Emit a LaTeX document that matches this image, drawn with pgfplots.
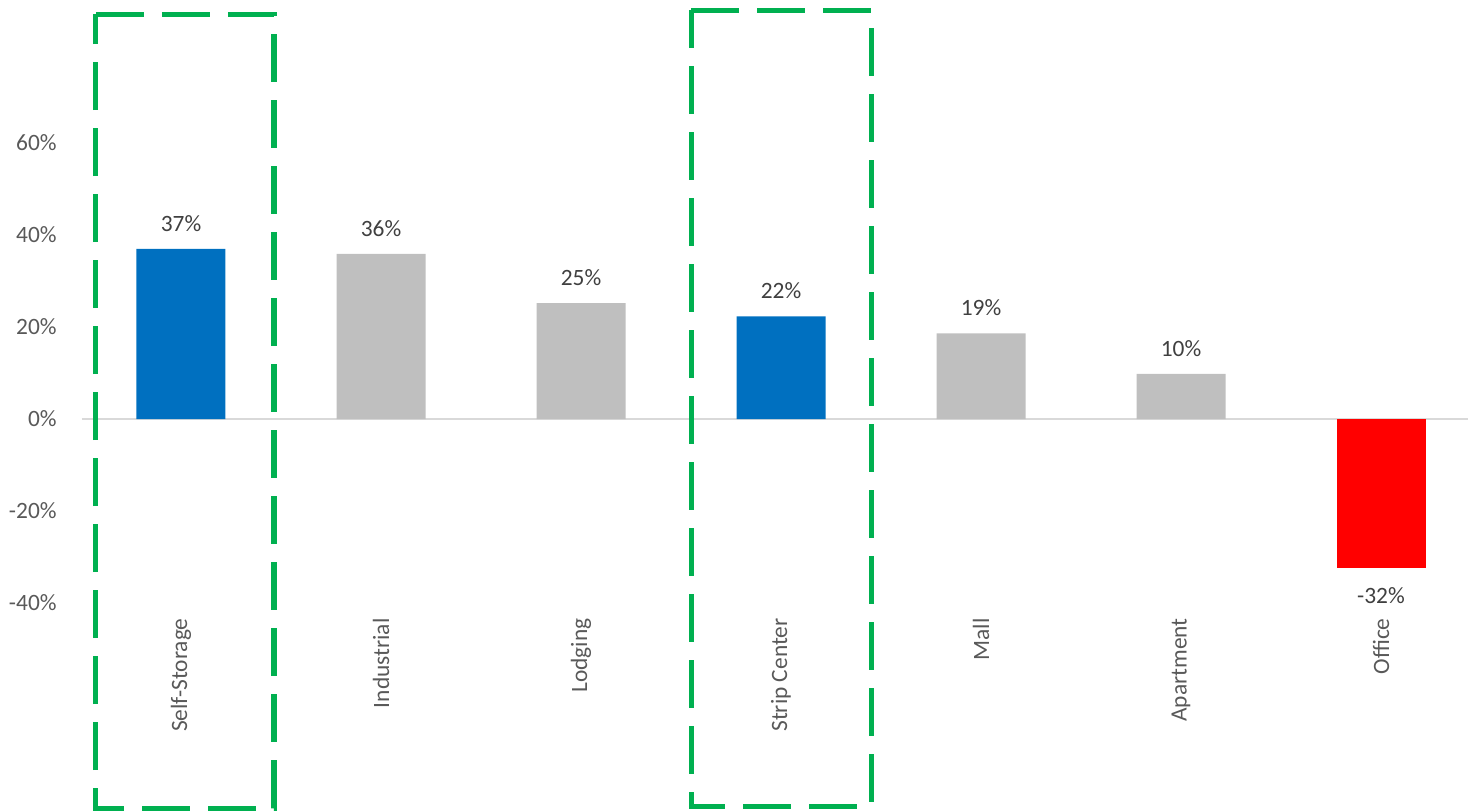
\documentclass[border=0pt]{standalone}
\usepackage{pgfplots}
\pgfplotsset{compat=1.18}
\usepackage{fontspec}
\setmainfont{Carlito}
\definecolor{barblue}{HTML}{0070C0}
\definecolor{bargray}{HTML}{BFBFBF}
\definecolor{barred}{HTML}{FF0000}
\definecolor{boxgreen}{HTML}{00B050}
\definecolor{ticktext}{HTML}{595959}
\definecolor{labeltext}{HTML}{404040}
\definecolor{zeroline}{HTML}{D9D9D9}
\begin{document}
\begin{tikzpicture}[font=\fontsize{11.7}{14}\selectfont]
  \begin{axis}[
    at={(0,0)}, anchor=south west,
    scale only axis,
    width=693pt, height=309pt,
    xmin=-0.495, xmax=6.435,
    ymin=-43.26, ymax=91.09,
    clip=false,
    axis line style={draw=none},
    major tick length=0pt,
    xtick={0,...,6},
    xticklabels={Self-Storage, Industrial, Lodging, Strip Center, Mall, Apartment, Office},
    xticklabel style={rotate=90, anchor=east, inner sep=0pt, text=ticktext},
    ytick={-40,-20,0,20,40,60},
    yticklabels={-40\%,-20\%,0\%,20\%,40\%,60\%},
    yticklabel style={anchor=east, inner sep=0pt, xshift=-12.5pt, text=ticktext},
    extra y ticks={0},
    extra y tick labels={},
    extra y tick style={grid=major, grid style={draw=zeroline, line width=1pt}},
  ]
    % blue bars
    \addplot[ybar, bar width=44.5pt, bar shift=0pt, fill=barblue, draw=none,
      nodes near coords, point meta=explicit symbolic,
      nodes near coords align={anchor=south},
      every node near coord/.append style={text=labeltext, inner xsep=0pt, inner ysep=8.5pt}]
      coordinates {(0,37) [37\%] (3,22.3) [22\%]};
    % gray bars
    \addplot[ybar, bar width=44.5pt, bar shift=0pt, fill=bargray, draw=none,
      nodes near coords, point meta=explicit symbolic,
      nodes near coords align={anchor=south},
      every node near coord/.append style={text=labeltext, inner xsep=0pt, inner ysep=8.5pt}]
      coordinates {(1,35.9) [36\%] (2,25.2) [25\%] (4,18.6) [19\%] (5,9.8) [10\%]};
    % red bar
    \addplot[ybar, bar width=44.5pt, bar shift=0pt, fill=barred, draw=none,
      nodes near coords, point meta=explicit symbolic,
      nodes near coords align={anchor=north},
      every node near coord/.append style={text=labeltext, inner xsep=0pt, inner ysep=10pt}]
      coordinates {(6,-32.3) [-32\%]};
    % highlight boxes
    \addplot[draw=boxgreen, line width=2.5pt, dash pattern=on 24pt off 9pt, no marks]
      coordinates {(-0.425,88.04) (0.465,88.04) (0.465,-84.57) (-0.425,-84.57) (-0.425,88.04)};
    \addplot[draw=boxgreen, line width=2.5pt, dash pattern=on 24pt off 9pt, no marks]
      coordinates {(2.55,88.9) (3.45,88.9) (3.45,-84.13) (2.55,-84.13) (2.55,88.9)};
  \end{axis}
  \pgfresetboundingbox
  \path[use as bounding box] (-41pt,-96.5pt) rectangle (693pt,309pt);
\end{tikzpicture}
\end{document}
